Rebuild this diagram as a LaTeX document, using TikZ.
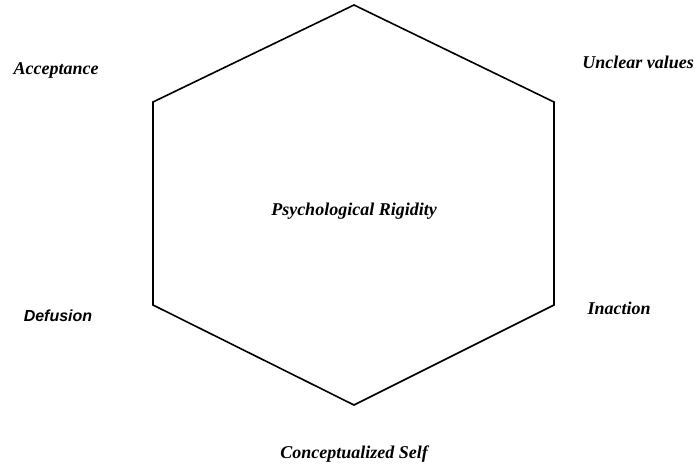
\documentclass[tikz,border=0pt]{standalone}
\usepackage{fontspec}
\setmainfont{Liberation Serif}
\newfontfamily\arialfont{Liberation Sans}
\begin{document}
\begin{tikzpicture}[x=1pt,y=-1pt,
  lbl/.style={font=\fontsize{18}{20}\selectfont\bfseries\itshape, inner sep=0pt},
  sanslbl/.style={font=\fontsize{16}{18}\selectfont\arialfont\bfseries\itshape, inner sep=0pt}]
\useasboundingbox (0,0) rectangle (695,469);
\coordinate (t) at (354,5);
\coordinate (ur) at (554,102);
\coordinate (lr) at (554,305);
\coordinate (b) at (354,405);
\coordinate (ll) at (153,305);
\coordinate (ul) at (153,102);
\draw[line width=1.6pt, line join=miter] (t) -- (ur) -- (lr) -- (b) -- (ll) -- (ul) -- cycle;
\node[lbl] (acc) at (56,70) {Acceptance};
\node[lbl] (unc) at (638,62) {Unclear values};
\node[lbl] (psy) at (354,211) {Psychological Rigidity};
\node[sanslbl] (def) at (58,316) {Defusion};
\node[lbl] (ina) at (619,308) {Inaction};
\node[lbl] (con) at (354,454) {Conceptualized Self};
\end{tikzpicture}
\end{document}
